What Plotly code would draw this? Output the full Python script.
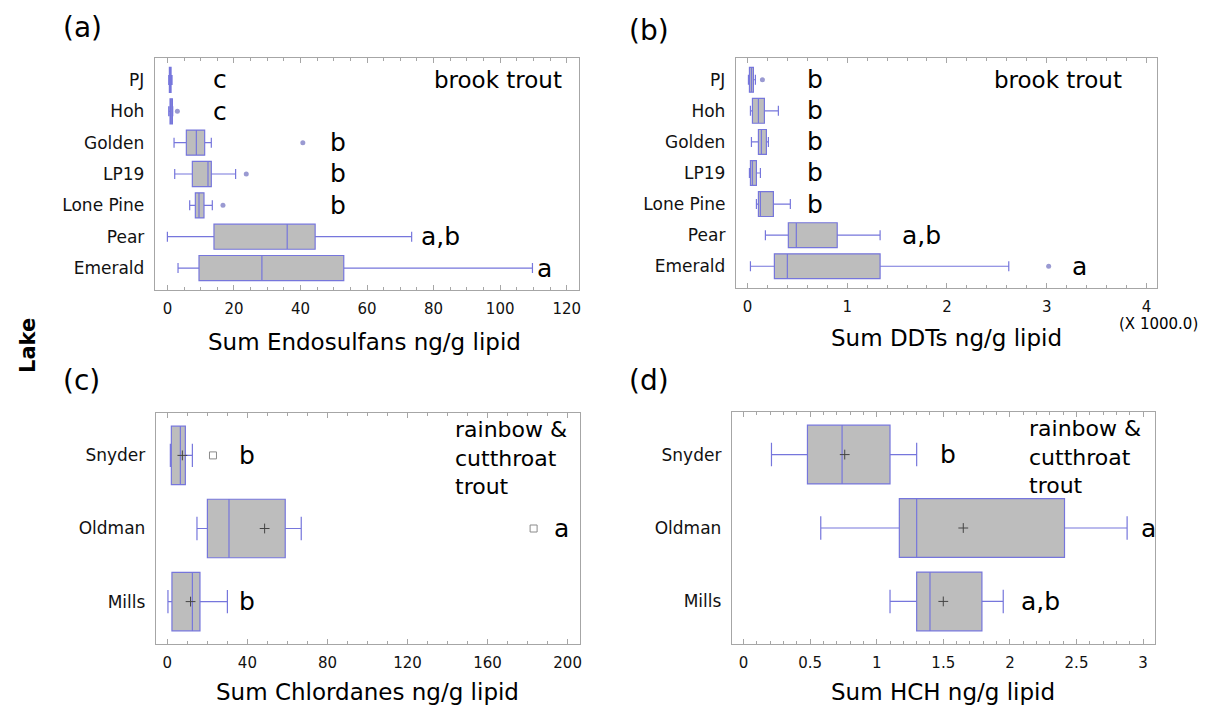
import plotly.graph_objects as go

W, H = 1205, 708

# ---- data ----
brook_lakes = ["PJ", "Hoh", "Golden", "LP19", "Lone Pine", "Pear", "Emerald"]

endo_lo = [0.4, 0.4, 2.0, 2.2, 6.7, 0.0, 3.2]
endo_q1 = [0.6, 0.8, 5.7, 7.5, 8.4, 14.0, 9.5]
endo_med = [0.9, 1.1, 8.7, 12.2, 9.5, 36.0, 28.4]
endo_q3 = [1.1, 1.5, 11.2, 13.2, 11.0, 44.4, 53.0]
endo_hi = [1.4, 1.6, 13.2, 20.5, 13.5, 73.4, 109.7]
endo_out_lake = ["Hoh", "Golden", "LP19", "Lone Pine"]
endo_out_val = [3.0, 40.7, 23.7, 16.7]
endo_letters = ["c", "c", "b", "b", "b", "a,b", "a"]

# DDTs, in units of 1000 ng/g lipid
ddt_lo = [0.01, 0.03, 0.04, 0.02, 0.09, 0.18, 0.03]
ddt_q1 = [0.02, 0.05, 0.11, 0.03, 0.11, 0.41, 0.27]
ddt_med = [0.04, 0.11, 0.14, 0.05, 0.13, 0.49, 0.40]
ddt_q3 = [0.06, 0.17, 0.19, 0.09, 0.26, 0.90, 1.33]
ddt_hi = [0.08, 0.31, 0.21, 0.13, 0.43, 1.33, 2.62]
ddt_out_lake = ["PJ", "Emerald"]
ddt_out_val = [0.15, 3.02]
ddt_letters = ["b", "b", "b", "b", "b", "a,b", "a"]

rc_lakes = ["Snyder", "Oldman", "Mills"]

chl_lo = [1.5, 14.8, 0.3]
chl_q1 = [2.0, 20.0, 2.3]
chl_med = [6.5, 30.8, 12.5]
chl_q3 = [9.0, 58.9, 16.3]
chl_hi = [12.5, 66.9, 30.0]
chl_mean = [7.5, 48.6, 11.6]
chl_out_lake = ["Snyder", "Oldman"]
chl_out_val = [22.8, 183.0]
chl_letters = ["b", "a", "b"]

hch_lo = [0.21, 0.58, 1.10]
hch_q1 = [0.48, 1.17, 1.30]
hch_med = [0.74, 1.30, 1.40]
hch_q3 = [1.10, 2.41, 1.79]
hch_hi = [1.30, 2.88, 1.95]
hch_mean = [0.76, 1.65, 1.50]
hch_letters = ["b", "a", "a,b"]

# ---- styling ----
FONT = "DejaVu Sans"
BOX_LINE = "#7676dc"
BOX_FILL = "#bdbdbd"
AXIS_COL = "#a6a6a6"


def pxx(p):
  return p / W


def pxy(p):
  return 1 - p / H


fig = go.Figure()


def add_box(ax, lakes, lo, q1, med, q3, hi):
  fig.add_trace(go.Box(y=lakes, q1=q1, median=med, q3=q3,
                       lowerfence=lo, upperfence=hi,
                       orientation="h", boxpoints=False,
                       width=0.8, whiskerwidth=0.4,
                       fillcolor=BOX_FILL,
                       line=dict(color=BOX_LINE, width=1.2),
                       xaxis="x" + ax, yaxis="y" + ax,
                       hoverinfo="skip"))


add_box("", brook_lakes, endo_lo, endo_q1, endo_med, endo_q3, endo_hi)
add_box("2", brook_lakes, ddt_lo, ddt_q1, ddt_med, ddt_q3, ddt_hi)
add_box("3", rc_lakes, chl_lo, chl_q1, chl_med, chl_q3, chl_hi)
add_box("4", rc_lakes, hch_lo, hch_q1, hch_med, hch_q3, hch_hi)

# outliers
fig.add_trace(go.Scatter(x=endo_out_val, y=endo_out_lake, mode="markers",
                         marker=dict(symbol="circle", size=5, color="#9a9ad2"),
                         xaxis="x", yaxis="y"))
fig.add_trace(go.Scatter(x=ddt_out_val, y=ddt_out_lake, mode="markers",
                         marker=dict(symbol="circle", size=5, color="#9a9ad2"),
                         xaxis="x2", yaxis="y2"))
fig.add_trace(go.Scatter(x=chl_out_val, y=chl_out_lake, mode="markers",
                         marker=dict(symbol="square-open", size=7, color="#8a8a8a",
                                     line=dict(width=1)),
                         xaxis="x3", yaxis="y3"))
# means
fig.add_trace(go.Scatter(x=chl_mean, y=rc_lakes, mode="markers",
                         marker=dict(symbol="cross-thin", size=7,
                                     line=dict(color="#444444", width=1)),
                         xaxis="x3", yaxis="y3"))
fig.add_trace(go.Scatter(x=hch_mean, y=rc_lakes, mode="markers",
                         marker=dict(symbol="cross-thin", size=7,
                                     line=dict(color="#444444", width=1)),
                         xaxis="x4", yaxis="y4"))


def xaxis(dom, rng, dtick, minor):
  return dict(domain=dom, range=rng, dtick=dtick, tick0=0,
              ticks="inside", ticklen=5, tickcolor=AXIS_COL,
              minor=dict(dtick=minor, ticks="inside", ticklen=3, tickcolor=AXIS_COL),
              showline=True, linecolor=AXIS_COL, linewidth=1, mirror="allticks",
              showgrid=False, zeroline=False, ticklabelstandoff=5,
              tickfont=dict(family=FONT, size=15, color="#111111"))


def yaxis(dom, rng, anchor):
  return dict(domain=dom, range=rng,
              type="category", anchor=anchor,
              ticks="", showline=True, linecolor=AXIS_COL, linewidth=1, mirror=True,
              showgrid=False, zeroline=False, ticklabelstandoff=6,
              tickfont=dict(family=FONT, size=17, color="#111111"))


fig.update_layout(
  width=W, height=H,
  margin=dict(l=0, r=0, t=0, b=0),
  paper_bgcolor="white", plot_bgcolor="white",
  showlegend=False,
  xaxis=dict(xaxis([pxx(155), pxx(580)], [-3.8, 123.7], 20, 5), anchor="y"),
  yaxis=yaxis([pxy(290), pxy(58)], [6.7, -0.7], "x"),
  xaxis2=dict(xaxis([pxx(737), pxx(1159)], [-0.117, 4.107], 1, 0.2), anchor="y2"),
  yaxis2=yaxis([pxy(288), pxy(58)], [6.7, -0.7], "x2"),
  xaxis3=dict(xaxis([pxx(156), pxx(581)], [-5.8, 206.2], 40, 10), anchor="y3"),
  yaxis3=yaxis([pxy(644), pxy(413)], [2.58, -0.58], "x3"),
  xaxis4=dict(xaxis([pxx(733), pxx(1157)], [-0.088, 3.09], 0.5, 0.1), anchor="y4"),
  yaxis4=yaxis([pxy(644), pxy(412)], [2.58, -0.58], "x4"),
)

ann = []


def letter(ax, x, y, t):
  ann.append(dict(x=x, y=y, xref="x" + ax, yref="y" + ax, text=t,
                  showarrow=False, xanchor="left", yanchor="middle",
                  font=dict(family=FONT, size=25, color="black")))


endo_letter_x = [13, 13, 48.2, 48.2, 48.2, 75.7, 110.5]
ddt_letter_x = [0.58, 0.58, 0.58, 0.58, 0.58, 1.53, 3.23]
chl_letter_x = [34.8, 192, 34.8]
hch_letter_x = [1.46, 2.97, 2.07]
for lake, t, x in zip(brook_lakes, endo_letters, endo_letter_x):
  letter("", x, lake, t)
for lake, t, x in zip(brook_lakes, ddt_letters, ddt_letter_x):
  letter("2", x, lake, t)
for lake, t, x in zip(rc_lakes, chl_letters, chl_letter_x):
  letter("3", x, lake, t)
for lake, t, x in zip(rc_lakes, hch_letters, hch_letter_x):
  letter("4", x, lake, t)

# species notes
ann.append(dict(x=119.2, y="PJ", xref="x", yref="y", text="brook trout",
                showarrow=False, xanchor="right", yanchor="middle",
                font=dict(family=FONT, size=23, color="black")))
ann.append(dict(x=3.78, y="PJ", xref="x2", yref="y2", text="brook trout",
                showarrow=False, xanchor="right", yanchor="middle",
                font=dict(family=FONT, size=23, color="black")))
ann.append(dict(x=142.6, y=pxy(415), xref="x3", yref="paper",
                text="rainbow &amp;<br>cutthroat<br>trout", align="left",
                showarrow=False, xanchor="left", yanchor="top",
                font=dict(family=FONT, size=22, color="black")))
ann.append(dict(x=2.13, y=pxy(414), xref="x4", yref="paper",
                text="rainbow &amp;<br>cutthroat<br>trout", align="left",
                showarrow=False, xanchor="left", yanchor="top",
                font=dict(family=FONT, size=22, color="black")))


def paper_text(x, y, t, size, xanchor="center", **kw):
  ann.append(dict(x=pxx(x), y=pxy(y), xref="paper", yref="paper", text=t,
                  showarrow=False, xanchor=xanchor, yanchor="middle",
                  font=dict(family=FONT, size=size, color="black"), **kw))


# axis titles
paper_text(365, 342, "Sum Endosulfans ng/g lipid", 23)
paper_text(948, 338, "Sum DDTs ng/g lipid", 23)
paper_text(368, 692, "Sum Chlordanes ng/g lipid", 23)
paper_text(945, 692, "Sum HCH ng/g lipid", 23)
paper_text(1160, 324, "(X 1000.0)", 15)

# panel labels
paper_text(61, 27, "(a)", 28, xanchor="left")
paper_text(628, 30, "(b)", 28, xanchor="left")
paper_text(61, 380, "(c)", 28, xanchor="left")
paper_text(628, 380, "(d)", 28, xanchor="left")

# shared y title
paper_text(28, 345, "<b>Lake</b>", 21, textangle=-90)

fig.update_layout(annotations=ann)

fig.write_html("out.html", config={"displayModeBar": False},
               post_script="document.body.style.margin='0';")
